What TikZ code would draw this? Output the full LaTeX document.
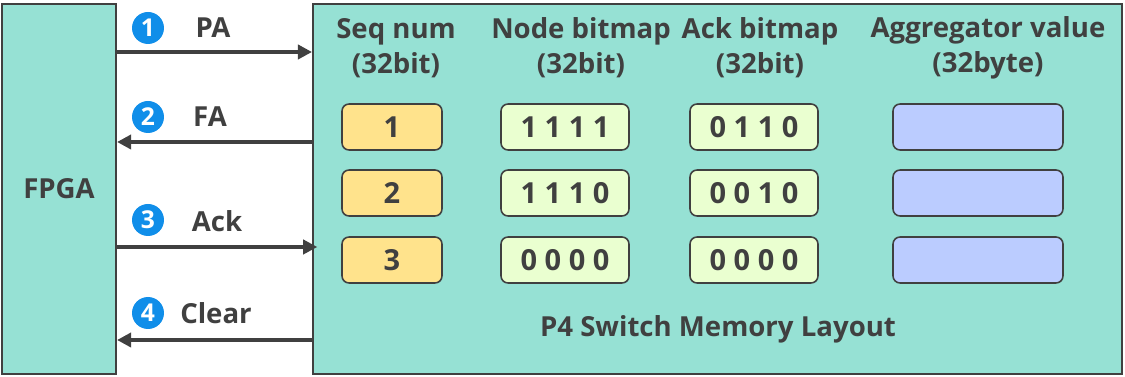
\documentclass[tikz,border=0pt]{standalone}
\usepackage{fontspec}
\setmainfont{Open Sans}
\usetikzlibrary{arrows.meta,positioning}
\definecolor{MemTeal}{RGB}{150,225,212}
\definecolor{EdgeGray}{RGB}{64,64,64}
\definecolor{SeqYellow}{RGB}{255,227,140}
\definecolor{BitGreen}{RGB}{234,255,208}
\definecolor{AggBlue}{RGB}{187,204,255}
\definecolor{StepBlue}{RGB}{16,142,233}

\begin{document}
\begin{tikzpicture}[x=0.02cm, y=-0.02cm,
  block/.style={rectangle, draw=EdgeGray, line width=1.2pt, fill=MemTeal, minimum height=7.4cm,
                font=\fontsize{15.7}{18}\selectfont\bfseries, text=EdgeGray},
  cell/.style={rectangle, rounded corners=4pt, draw=EdgeGray, line width=0.9pt, minimum height=0.92cm,
               font=\fontsize{16.5}{18}\selectfont\bfseries, text=EdgeGray},
  seqcell/.style={cell, fill=SeqYellow, minimum width=2.0cm},
  bitcell/.style={cell, fill=BitGreen, minimum width=2.56cm},
  aggcell/.style={cell, fill=AggBlue, minimum width=3.4cm},
  head/.style={align=center, font=\fontsize{15.7}{20}\selectfont\bfseries, text=EdgeGray},
  arrow/.style={-{Triangle[length=8pt,width=8pt]}, line width=2.4pt, EdgeGray},
  stepnum/.style={circle, fill=StepBlue, text=white, minimum size=0.64cm, inner sep=0pt,
                  font=\fontsize{14}{14}\selectfont\bfseries},
  msg/.style={font=\fontsize{15.7}{18}\selectfont\bfseries, text=EdgeGray}
]
\useasboundingbox (0,0) rectangle (1125,377);

% the two blocks
\node[block, minimum width=2.28cm] (fpga) at (59,189) {FPGA};
\node[block, minimum width=16.18cm] (mem) at (717.5,189) {};

% column headers
\node[head] (hseq) at (396,48) {Seq num\\(32bit)};
\node[head] (hnode) at (581,48) {Node bitmap\\(32bit)};
\node[head] (hack) at (760,48) {Ack bitmap\\(32bit)};
\node[head] (hagg) at (988,48) {Aggregator value\\(32byte)};

% memory rows
\node[seqcell] (s1) at (392,127) {1};
\node[bitcell] (n1) at (565,127) {1 1 1 1};
\node[bitcell] (a1) at (754,127) {0 1 1 0};
\node[aggcell] (g1) at (978,127) {};
\node[seqcell] (s2) at (392,193) {2};
\node[bitcell] (n2) at (565,193) {1 1 1 0};
\node[bitcell] (a2) at (754,193) {0 0 1 0};
\node[aggcell] (g2) at (978,193) {};
\node[seqcell] (s3) at (392,260) {3};
\node[bitcell] (n3) at (565,260) {0 0 0 0};
\node[bitcell] (a3) at (754,260) {0 0 0 0};
\node[aggcell] (g3) at (978,260) {};

\node[head] (title) at (718,329) {P4 Switch Memory Layout};

% messages between FPGA and switch
\node[stepnum] (c1) at (148,28) {1};
\node[msg] (pa) at (213,28) {PA};
\node[stepnum] (c2) at (148,117) {2};
\node[msg] (fa) at (210,117) {FA};
\node[stepnum] (c3) at (148,220) {3};
\node[msg] (ack) at (217,221) {Ack};
\node[stepnum] (c4) at (148,313) {4};
\node[msg] (clr) at (216,313) {Clear};

\draw[arrow] (fpga.east |- 0,52) -- (mem.west |- 0,52);
\draw[arrow] (mem.west |- 0,142) -- (fpga.east |- 0,142);
\draw[arrow, shorten >=-3pt] (fpga.east |- 0,247) -- (mem.west |- 0,247);
\draw[arrow] (mem.west |- 0,340) -- (fpga.east |- 0,340);
\end{tikzpicture}
\end{document}
